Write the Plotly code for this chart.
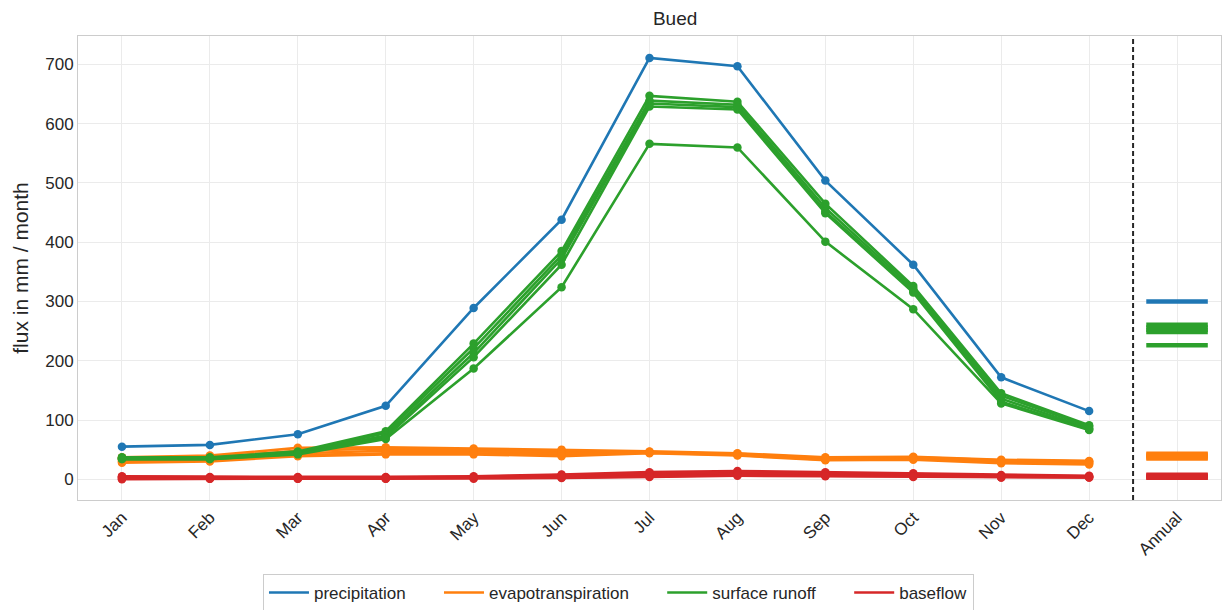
import numpy as np
import plotly.graph_objects as go

# Monthly water balance for the Bued catchment (mm / month), one list per model run
months = ["Jan", "Feb", "Mar", "Apr", "May", "Jun", "Jul", "Aug", "Sep", "Oct", "Nov", "Dec"]
annual_label = "Annual"

precipitation = [55, 58, 76, 124, 289, 438, 711, 697, 504, 362, 172, 115]

evapotranspiration_runs = [
    [37, 40, 53, 54, 52, 50, 47, 44, 37, 38, 33, 31],
    [35, 37, 48, 52, 50, 48, 46, 43, 36, 37, 32, 30],
    [33, 35, 44, 48, 47, 45, 46, 42, 34, 36, 31, 29],
    [30, 32, 41, 44, 44, 42, 45, 41, 33, 35, 29, 27],
    [28, 30, 39, 42, 42, 39, 44, 40, 32, 33, 27, 25],
]

surface_runoff_runs = [
    [37, 37, 47, 81, 229, 385, 647, 637, 465, 326, 145, 91],
    [36, 36, 45, 78, 221, 378, 639, 632, 458, 322, 141, 89],
    [35, 35, 44, 74, 213, 372, 634, 628, 452, 318, 136, 86],
    [34, 34, 43, 71, 206, 362, 629, 624, 449, 315, 131, 84],
    [34, 34, 42, 68, 187, 324, 566, 560, 401, 287, 128, 83],
]

baseflow_runs = [
    [5, 4, 4, 4, 5, 8, 12, 14, 12, 10, 7, 6],
    [4, 3, 3, 3, 4, 7, 10, 12, 10, 9, 6, 5],
    [3, 2, 2, 2, 3, 5, 7, 9, 8, 7, 5, 4],
    [1, 1, 1, 1, 2, 3, 5, 7, 6, 5, 3, 3],
    [0, 1, 1, 1, 1, 2, 4, 6, 5, 4, 3, 3],
]

series = [
    ("precipitation", "#1f77b4", [precipitation]),
    ("evapotranspiration", "#ff7f0e", evapotranspiration_runs),
    ("surface runoff", "#2ca02c", surface_runoff_runs),
    ("baseflow", "#d62728", baseflow_runs),
]

x_months = list(range(len(months)))
x_annual = len(months)
half_bar = 0.35

fig = go.Figure()

for name, color, runs in series:
    for run in runs:
        fig.add_trace(go.Scatter(
            x=x_months, y=run, mode="lines+markers",
            line=dict(color=color, width=2.6),
            marker=dict(color=color, size=8.5),
            showlegend=False, hoverinfo="skip",
        ))
    # annual mean of each run as a short horizontal bar
    for run in runs:
        m = float(np.mean(run))
        fig.add_trace(go.Scatter(
            x=[x_annual - half_bar, x_annual + half_bar], y=[m, m], mode="lines",
            line=dict(color=color, width=4.5),
            showlegend=False, hoverinfo="skip",
        ))

# legend entries (line only); non-breaking spaces widen the gap between entries
pad = "\u00a0" * 6
for i, (name, color, _) in enumerate(series):
    label = name + (pad if i < len(series) - 1 else "")
    fig.add_trace(go.Scatter(
        x=[None], y=[None], mode="lines", name=label,
        line=dict(color=color, width=2.6),
    ))

# separator between monthly values and annual means
fig.add_shape(type="line", xref="x", yref="paper",
              x0=len(months) - 0.5, x1=len(months) - 0.5, y0=0, y1=1,
              line=dict(color="#262626", width=2, dash="5px,3px"))

font_family = "Liberation Sans, Arial, sans-serif"

fig.update_layout(
    width=1223, height=610,
    margin=dict(l=78, r=2, t=36, b=110),
    paper_bgcolor="white", plot_bgcolor="white",
    font=dict(family=font_family, size=17, color="#262626"),
    title=dict(text="Bued", x=0.552, xanchor="center", y=0.97, yanchor="middle",
               font=dict(size=19, color="#262626")),
    showlegend=True,
    legend=dict(orientation="h", xref="container", yref="container",
                x=0.5057, xanchor="center", y=0.028, yanchor="middle",
                bordercolor="#cccccc", borderwidth=1,
                font=dict(size=17, color="#262626"),
                itemwidth=40),
)

fig.update_xaxes(
    range=[-0.5, len(months) + 0.5],
    tickmode="array",
    tickvals=x_months + [x_annual],
    ticktext=months + [annual_label],
    tickangle=-45,
    showgrid=True, gridcolor="#ebebeb", gridwidth=1,
    showline=True, linecolor="#cccccc", linewidth=1, mirror=True,
    zeroline=False, ticks="",
    tickfont=dict(size=17, color="#262626"),
)
fig.update_yaxes(
    range=[-35, 748],
    tickmode="array", tickvals=list(range(0, 701, 100)),
    showgrid=True, gridcolor="#ebebeb", gridwidth=1,
    showline=True, linecolor="#cccccc", linewidth=1, mirror=True,
    zeroline=False, ticks="",
    tickfont=dict(size=17, color="#262626"),
    title=dict(text="flux in mm / month", font=dict(size=21, color="#262626"), standoff=10),
)

fig.write_html("out.html")
